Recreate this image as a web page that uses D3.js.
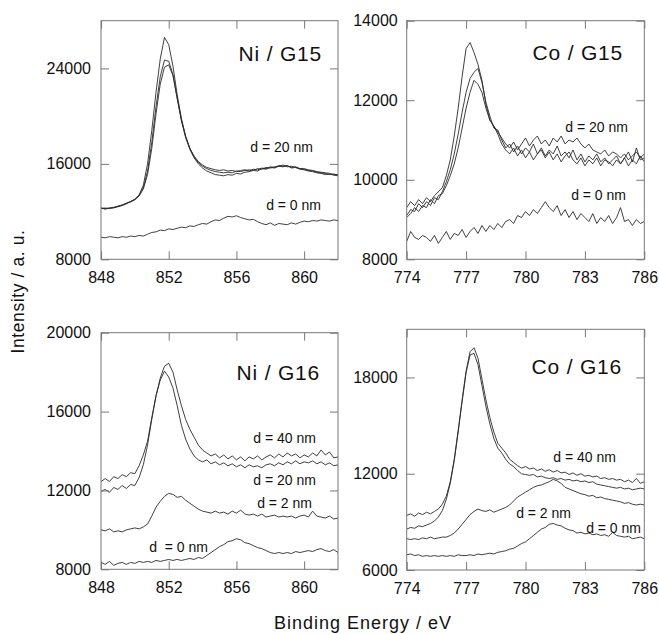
<!DOCTYPE html>
<html><head><meta charset="utf-8">
<script src="https://cdn.jsdelivr.net/npm/d3@7"></script>
<style>
html,body{margin:0;padding:0;background:#fff;}
svg{display:block;font-family:"Liberation Sans",Arial,Helvetica,sans-serif;}
</style></head>
<body><svg id="chart" width="659" height="634"></svg>
<script>
// ---------- DATA ----------
const niEnergy = d3.range(848, 862.001, 0.25);   // 57 points
const coEnergy = d3.range(774, 786.001, 0.2);    // 61 points

const niTicksX = [848, 852, 856, 860];
const coTicksX = [774, 777, 780, 783, 786];
const niG15TicksY = [8000, 16000, 24000];
const coG15TicksY = [8000, 10000, 12000, 14000];
const niG16TicksY = [8000, 12000, 16000, 20000];
const coG16TicksY = [6000, 12000, 18000];

const panelTitles = ["Ni / G15", "Co / G15", "Ni / G16", "Co / G16"];
const niG15Labels = ["d = 20 nm", "d = 0 nm"];
const coG15Labels = ["d = 20 nm", "d = 0 nm"];
const niG16Labels = ["d = 40 nm", "d = 20 nm", "d = 2 nm", "d  = 0 nm"];
const coG16Labels = ["d = 40 nm", "d = 2 nm", "d = 0 nm"];

// Ni / G15
const niG15_a = [12300,12250,12300,12350,12450,12550,12700,12850,13050,13400,14200,16000,18800,22000,24800,26600,26000,24200,21800,19800,18300,17300,16600,16100,15800,15600,15450,15350,15300,15250,15300,15250,15400,15350,15450,15500,15450,15600,15550,15700,15650,15750,15800,15900,15750,15800,15700,15600,15550,15450,15400,15300,15250,15200,15100,15150,15050];
const niG15_b = [12250,12300,12250,12350,12400,12500,12650,12850,13000,13350,14000,15400,17800,20800,23300,24700,24600,23500,21500,19700,18300,17300,16650,16200,15900,15700,15600,15500,15450,15500,15400,15450,15350,15450,15500,15400,15550,15500,15650,15600,15750,15700,15850,15800,15850,15700,15750,15600,15600,15500,15450,15350,15300,15250,15200,15100,15100];
const niG15_c = [12300,12200,12300,12300,12450,12550,12700,12800,13000,13300,13900,15100,17300,20200,22700,24100,24300,23400,21500,19600,18200,17200,16500,16000,15650,15400,15250,15100,15050,15000,15100,15050,15200,15150,15300,15350,15450,15400,15600,15550,15700,15650,15800,15750,15850,15650,15700,15550,15500,15400,15350,15250,15200,15100,15150,15050,15000];
const niG15_d0 = [9850,9800,9900,9850,9800,9900,9850,9950,9900,10000,9950,10100,10250,10300,10450,10400,10550,10500,10600,10700,10650,10800,10750,10900,11000,10950,11150,11300,11250,11450,11600,11550,11650,11500,11400,11300,11350,11150,11000,10900,11050,10850,11000,10950,10900,11050,10950,11100,11200,11150,11250,11200,11300,11250,11200,11300,11250];

// Co / G15
const coG15_a = [9300,9450,9350,9500,9400,9550,9450,9600,9700,9800,10100,10500,11100,11800,12600,13300,13450,13200,12900,12500,11900,11500,11350,11200,11050,10900,10800,10950,10750,10900,11050,10850,11000,11100,10900,11000,10850,11050,10950,11100,10900,11000,10950,11050,10900,10800,10900,10750,10700,10650,10750,10600,10700,10650,10550,10650,10500,10600,10700,10550,10650];
const coG15_b = [9100,9250,9200,9400,9300,9450,9350,9550,9500,9700,9950,10250,10650,11150,11700,12200,12550,12700,12800,12450,11950,11600,11300,11250,11000,10800,10900,10700,10850,10650,10800,10700,10900,10650,10800,10600,10750,10650,10850,10600,10700,10550,10750,10500,10650,10450,10600,10500,10650,10450,10550,10400,10500,10600,10400,10550,10700,10450,10800,10500,10550];
const coG15_c = [9050,9150,9300,9200,9350,9300,9500,9400,9600,9650,9850,10100,10400,10800,11300,11800,12200,12500,12400,12200,11800,11500,11350,11150,10900,10750,10650,10800,10600,10750,10550,10700,10500,10650,10750,10550,10700,10500,10650,10450,10600,10700,10500,10400,10550,10350,10500,10400,10550,10350,10500,10450,10350,10500,10400,10550,10350,10500,10400,10600,10450];
const coG15_d0 = [8450,8700,8550,8500,8600,8550,8450,8600,8400,8550,8700,8500,8650,8600,8750,8550,8700,8800,8650,8850,8700,8850,8750,8900,8800,8950,9000,8900,9100,9050,9200,9100,9250,9150,9300,9450,9300,9200,9350,9100,9250,9050,9200,9000,9150,9050,8950,9150,8900,9050,8950,9100,8900,9050,9300,8950,9000,8850,9000,8900,8950];

// Ni / G16
const niG16_d40 = [12450,12600,12450,12700,12600,12800,12700,12900,12850,13250,13800,14500,15700,16800,17700,18300,18450,18000,17100,16300,15600,15100,14700,14300,14050,13900,13750,13850,13650,13800,13600,13750,13550,13700,13500,13700,13600,13750,13550,13700,13800,13650,13850,13700,13900,13750,13850,13650,13800,13700,13900,13750,14050,13800,13950,13650,13700];
const niG16_d20 = [11950,12050,11900,12150,12050,12250,12100,12300,12250,12650,13300,14300,15600,16800,17600,18050,17750,17200,16300,15300,14600,14100,13750,13550,13450,13550,13350,13450,13300,13400,13250,13350,13200,13300,13150,13300,13200,13250,13150,13300,13350,13250,13400,13300,13450,13350,13500,13350,13450,13400,13500,13350,13450,13300,13400,13250,13300];
const niG16_d2 = [10000,9950,10050,9900,9950,9900,10000,10050,10100,10050,10150,10300,10700,11150,11450,11700,11850,11800,11650,11700,11500,11350,11200,11050,10950,10900,10850,10950,10850,10900,10800,10950,10850,11000,10800,10750,10800,10700,10800,10650,10700,10750,10650,10700,10650,10700,10600,10700,10750,10650,10950,10700,10650,10600,10700,10550,10600];
const niG16_d0 = [8350,8250,8400,8200,8300,8350,8250,8350,8300,8400,8350,8400,8350,8450,8400,8450,8500,8450,8500,8450,8500,8550,8500,8600,8550,8700,8850,9000,9150,9250,9400,9450,9550,9500,9350,9300,9200,9100,9050,8950,8850,8800,8850,8800,8850,8800,8900,8850,8900,8950,8900,9000,9050,8950,8900,9000,8850];

// Co / G16
const coG16_d40 = [9400,9500,9350,9550,9450,9600,9500,9650,9800,10100,10600,11500,12900,14700,16600,18400,19600,19850,19200,17900,16600,15500,14600,13900,13600,13300,12900,12700,12500,12350,12450,12300,12350,12200,12300,12150,12250,12100,12200,12050,12100,11950,12050,11900,12000,11850,11900,11800,11850,11700,11750,11650,11700,11600,11650,11500,11600,11450,11700,11400,11500];
const coG16_d20 = [8550,8650,8600,8750,8700,8800,8900,9050,9300,9700,10400,11400,12800,14600,16500,18300,19400,19500,18800,17500,16200,15100,14200,13600,13300,12900,12600,12450,12200,12000,11950,11900,11950,11800,11850,11750,11700,11750,11650,11700,11600,11650,11550,11600,11500,11550,11450,11500,11350,11300,11250,11200,11150,11100,11150,11050,11100,11000,11050,11100,11050];
const coG16_d2 = [7950,7900,7950,7900,8000,7950,8050,7950,8000,8050,8050,8150,8300,8550,8850,9150,9450,9650,9800,9700,9650,9750,9600,9700,9800,9900,10050,10300,10550,10700,10850,11000,11150,11250,11300,11400,11500,11650,11550,11400,11150,11050,10950,10850,10750,10700,10600,10650,10500,10550,10450,10400,10350,10300,10250,10150,10200,10100,10050,10100,10050];
const coG16_d0 = [6950,7000,6900,6950,6850,6900,6850,6900,6850,6900,6850,6900,6850,6950,6900,6900,6950,6900,7000,6950,7000,7050,7000,7100,7150,7200,7300,7350,7500,7650,7750,7950,8150,8350,8550,8650,8850,8900,8800,8750,8600,8500,8450,8300,8350,8250,8300,8200,8250,8150,8200,8100,8350,8150,8100,8050,8100,7950,8000,8050,7950];

// ---------- LAYOUT ----------
const panels = [
  {title: panelTitles[0], xd:[848,862], yd:[8000,28000], xt:niTicksX, yt:niG15TicksY, E:niEnergy,
   series:[niG15_a, niG15_b, niG15_c, niG15_d0],
   box:{l:101, r:338, t:20.7, b:259.3}, titlePos:[322, 60.7], pad:10,
   labels:[[niG15Labels[0], 313, 151.5],[niG15Labels[1], 321, 210]]},
  {title: panelTitles[1], xd:[774,786], yd:[8000,14000], xt:coTicksX, yt:coG15TicksY, E:coEnergy,
   series:[coG15_a, coG15_b, coG15_c, coG15_d0],
   box:{l:406.7, r:644.3, t:20.7, b:259.3}, titlePos:[623, 60], pad:9,
   labels:[[coG15Labels[0], 628, 131.5],[coG15Labels[1], 626, 200]]},
  {title: panelTitles[2], xd:[848,862], yd:[8000,20000], xt:niTicksX, yt:niG16TicksY, E:niEnergy,
   series:[niG16_d40, niG16_d20, niG16_d2, niG16_d0],
   box:{l:101, r:338, t:332.7, b:569.3}, titlePos:[320, 380], pad:10,
   labels:[[niG16Labels[0], 316, 443.3],[niG16Labels[1], 316, 485],[niG16Labels[2], 312, 508.3],[niG16Labels[3], 208, 551.7]]},
  {title: panelTitles[3], xd:[774,786], yd:[6000,21000], xt:coTicksX, yt:coG16TicksY, E:coEnergy,
   series:[coG16_d40, coG16_d20, coG16_d2, coG16_d0],
   box:{l:406.7, r:644.3, t:329.3, b:570}, titlePos:[622, 374], pad:9,
   labels:[[coG16Labels[0], 616, 461.7],[coG16Labels[1], 571, 518.3],[coG16Labels[2], 641, 532.7]]}
];

const svg = d3.select("#chart");
const frameColor = "#777";
const lineColor = "#2a2a2a";

panels.forEach(p => {
  const B = p.box;
  const x = d3.scaleLinear().domain(p.xd).range([B.l, B.r]);
  const y = d3.scaleLinear().domain(p.yd).range([B.b, B.t]);
  const g = svg.append("g");

  const cid = "clip" + Math.round(B.l) + "_" + Math.round(B.t);
  svg.append("clipPath").attr("id", cid).append("rect")
    .attr("x", B.l).attr("y", B.t).attr("width", B.r - B.l).attr("height", B.b - B.t);

  const line = d3.line().x((d, i) => x(p.E[i])).y(d => y(d));
  g.append("g").attr("clip-path", `url(#${cid})`)
    .selectAll("path").data(p.series).join("path")
    .attr("d", s => line(s))
    .attr("fill", "none").attr("stroke", lineColor).attr("stroke-width", 0.9)
    .attr("stroke-linejoin", "round");

  const styleAxis = sel => {
    sel.select(".domain").remove();
    sel.selectAll(".tick line").attr("stroke", frameColor).attr("stroke-width", 1);
    sel.selectAll(".tick text").attr("fill", "#111").style("font-size", "16px")
      .style("font-family", '"Liberation Sans", Arial, sans-serif');
  };
  g.append("g").attr("transform", `translate(0,${B.b})`)
    .call(d3.axisBottom(x).tickValues(p.xt).tickFormat(d3.format("d")).tickSize(-8).tickPadding(12.3))
    .call(styleAxis);
  g.append("g").attr("transform", `translate(0,${B.t})`)
    .call(d3.axisTop(x).tickValues(p.xt).tickFormat("").tickSize(-8))
    .call(styleAxis);
  g.append("g").attr("transform", `translate(${B.l},0)`)
    .call(d3.axisLeft(y).tickValues(p.yt).tickFormat(d3.format("d")).tickSize(-8).tickPadding(p.pad))
    .call(styleAxis);
  g.append("g").attr("transform", `translate(${B.r},0)`)
    .call(d3.axisRight(y).tickValues(p.yt).tickFormat("").tickSize(-8))
    .call(styleAxis);

  g.append("rect").attr("x", B.l).attr("y", B.t).attr("width", B.r - B.l).attr("height", B.b - B.t)
    .attr("fill", "none").attr("stroke", frameColor).attr("stroke-width", 1);

  g.append("text").attr("x", p.titlePos[0]).attr("y", p.titlePos[1])
    .attr("text-anchor", "end").style("font-size", "21px").style("letter-spacing", "0.8px")
    .attr("fill", "#111").text(p.title);

  g.selectAll("text.lab").data(p.labels).join("text").attr("class", "lab")
    .attr("x", d => d[1]).attr("y", d => d[2]).attr("text-anchor", "end")
    .style("font-size", "14px").attr("fill", "#111")
    .style("white-space", "pre").attr("xml:space", "preserve")
    .text(d => d[0]);
});

svg.append("text").attr("x", 363).attr("y", 629).attr("text-anchor", "middle")
  .style("font-size", "18px").style("letter-spacing", "1px").attr("fill", "#111")
  .text("Binding Energy / eV");
svg.append("text").attr("transform", "translate(23.5,291.5) rotate(-90)").attr("text-anchor", "middle")
  .style("font-size", "17.5px").style("letter-spacing", "0.6px").attr("fill", "#111")
  .text("Intensity / a. u.");
</script>
</body></html>
